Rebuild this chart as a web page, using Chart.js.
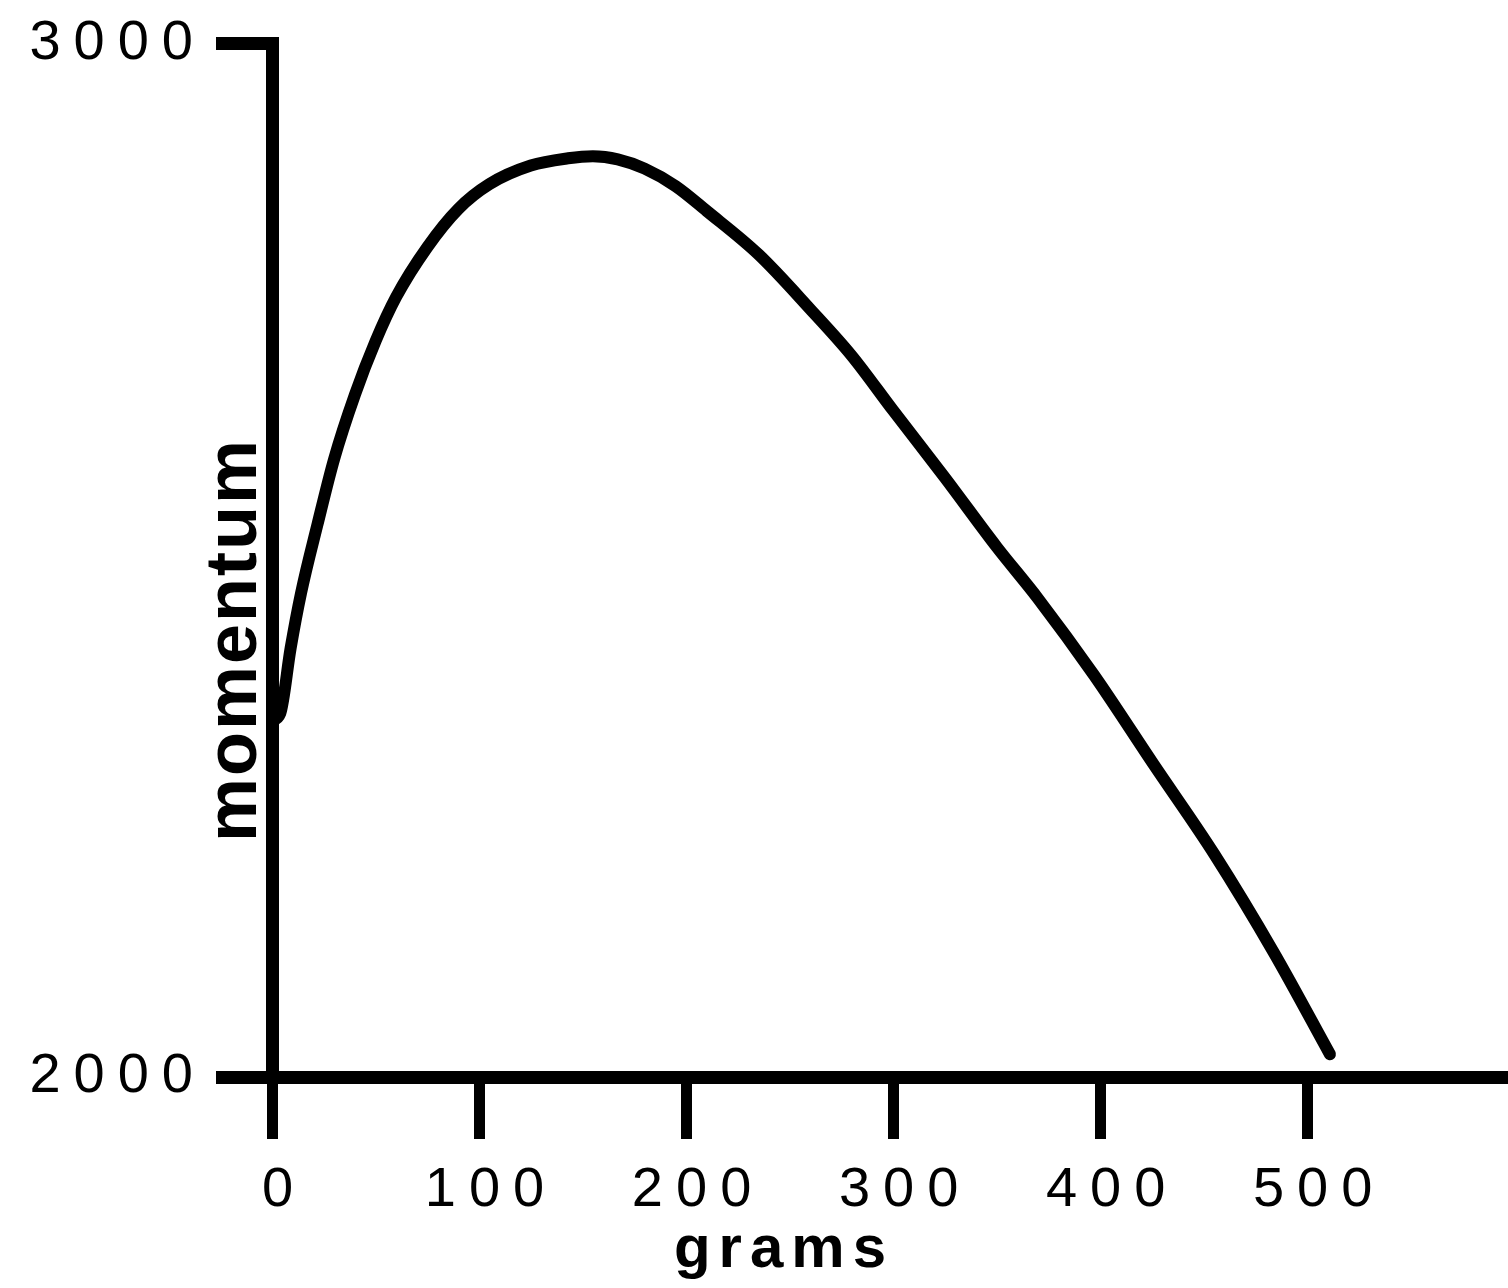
<!DOCTYPE html>
<html>
<head>
<meta charset="utf-8">
<script src="https://cdn.jsdelivr.net/npm/chart.js@4"></script>
<style>
  html, body { margin: 0; padding: 0; background: #fff; }
  #wrap { width: 1508px; height: 1288px; }
</style>
</head>
<body>
<div id="wrap"><canvas id="c" width="1508" height="1288"></canvas></div>
<script>
// ---- data ----
const grams    = [0,    4,    9,    14,   22,   30,   40,   50,   60,   75,   90,   105,  125,  143,  155,  167,  180,  195,  210,  235,  260,  280,  300,  325,  350,  370,  397,  426,  455,  484,  511];
const momentum = [2345, 2352, 2415, 2468, 2535, 2598, 2660, 2712, 2755, 2803, 2840, 2864, 2882, 2889, 2891, 2888, 2879, 2862, 2838, 2796, 2743, 2698, 2645, 2580, 2513, 2463, 2389, 2302, 2216, 2120, 2022];
const xTickValues = [0, 100, 200, 300, 400, 500];
const yTickValues = [2000, 3000];
const xTitle = 'grams';
const yTitle = 'momentum';

const points = grams.map((g, i) => ({ x: g, y: momentum[i] }));

const spacingPlugin = {
  id: 'spacing',
  beforeDraw(chart) { chart.ctx.letterSpacing = '13px'; },
  afterDraw(chart) {
    const ctx = chart.ctx;
    ctx.save();
    ctx.fillStyle = '#000';
    ctx.textAlign = 'center';
    ctx.textBaseline = 'middle';
    ctx.letterSpacing = '8px';
    ctx.font = 'bold 60px "Liberation Sans", Arial, sans-serif';
    ctx.fillText(xTitle, 784, 1250);
    ctx.translate(236, 640);
    ctx.rotate(-Math.PI / 2);
    ctx.letterSpacing = '2px';
    ctx.font = 'bold 72px "Liberation Sans", Arial, sans-serif';
    ctx.fillText(yTitle, 0, 0);
    ctx.restore();
    ctx.letterSpacing = '0px';
  }
};

new Chart(document.getElementById('c'), {
  type: 'line',
  data: {
    datasets: [{
      data: points,
      borderColor: '#000',
      borderWidth: 12,
      pointRadius: 0,
      fill: false,
      cubicInterpolationMode: 'monotone',
      borderCapStyle: 'round',
      borderJoinStyle: 'round',
      clip: false
    }]
  },
  options: {
    responsive: false,
    devicePixelRatio: 1,
    animation: false,
    layout: { padding: { top: 26, right: 0, bottom: 0, left: 0 } },
    plugins: { legend: { display: false }, tooltip: { enabled: false } },
    scales: {
      x: {
        type: 'linear',
        min: 0,
        max: 597,
        afterBuildTicks(s) { s.ticks = xTickValues.map(v => ({ value: v })); },
        afterFit(s) { s.height = 1288 - 1077; },
        border: { display: true, color: '#000', width: 13 },
        grid: { display: true, drawOnChartArea: false, drawTicks: true, color: '#000', tickLength: 62, tickWidth: 11, lineWidth: 11 },
        ticks: {
          color: '#000',
          padding: 18,
          labelOffset: 12,
          maxRotation: 0,
          autoSkip: false,
          font: { family: '"Liberation Sans", Arial, sans-serif', size: 56 },
          callback: v => String(v)
        }
      },
      y: {
        type: 'linear',
        min: 2000,
        max: 3000,
        afterBuildTicks(s) { s.ticks = yTickValues.map(v => ({ value: v })); },
        afterFit(s) { s.width = 272; },
        border: { display: true, color: '#000', width: 13 },
        grid: { display: true, drawOnChartArea: false, drawTicks: true, color: '#000', tickLength: 56, tickWidth: 13, lineWidth: 13 },
        ticks: {
          color: '#000',
          padding: 10,
          autoSkip: false,
          font: { family: '"Liberation Sans", Arial, sans-serif', size: 56 },
          callback: v => String(v)
        }
      }
    }
  },
  plugins: [spacingPlugin]
});
</script>
</body>
</html>
